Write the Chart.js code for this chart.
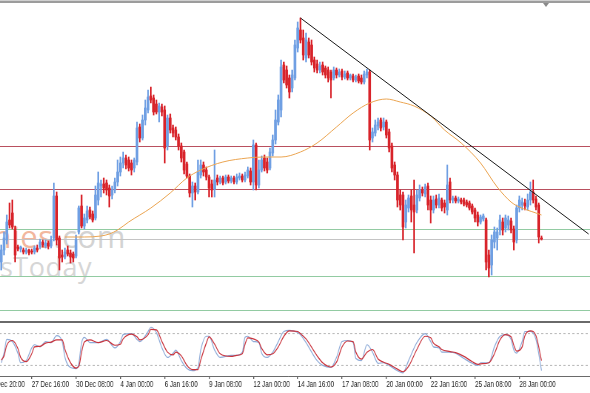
<!DOCTYPE html>
<html><head><meta charset="utf-8">
<script src="https://cdn.jsdelivr.net/npm/chart.js@4"></script>
<style>
html,body{margin:0;padding:0;background:#fff;width:590px;height:393px;overflow:hidden;position:relative;}
.abs{position:absolute;}
#top1{left:0;top:0;width:590px;height:1px;background:#cfcfcf}
#top2{left:0;top:1px;width:590px;height:2px;background:#9c9c9c}
#sep{left:0;top:321px;width:590px;height:2px;background:#6a6a6a}
#mark{left:543px;top:3px;width:0;height:0;border-left:3px solid transparent;border-right:3px solid transparent;border-top:4px solid #8a8a8a}
.wm{font-family:'Open Sans',sans-serif;white-space:nowrap;letter-spacing:0.5px}
#mainCanvas{position:absolute;left:-14px;top:4px}
#stochCanvas{position:absolute;left:-14px;top:323px}
</style></head>
<body>
<div class="abs wm" style="right:578px;top:221px;font-size:31px;line-height:31px;color:#f2b79e">econom</div>
<div class="abs wm" style="left:12px;top:221px;font-size:31px;line-height:31px"><span style="color:#f2b79e">ies</span><span style="color:#d3d3d3">.com</span></div>
<div class="abs wm" style="right:590px;top:253px;font-size:27px;line-height:27px;color:#d6d6d6">Economie</div>
<div class="abs wm" style="left:0px;top:253px;font-size:27px;line-height:27px;color:#d6d6d6">sToday</div>
<canvas id="mainCanvas" width="604" height="316"></canvas>
<canvas id="stochCanvas" width="816" height="70" style="width:604px;height:70px"></canvas>
<div id="top1" class="abs"></div><div id="top2" class="abs"></div>
<div id="sep" class="abs"></div>
<div id="mark" class="abs"></div>
<script>
// ---- data (bar index = 4-hour bar number from 24 Dec 20:00) ----
const tickBars = [0,16,32,48,64,80,96,112,128,144,160,176,192];
const tickLabels = ['24 Dec 20:00','27 Dec 16:00','30 Dec 08:00','4 Jan 00:00','6 Jan 16:00','9 Jan 08:00','12 Jan 00:00','14 Jan 16:00','17 Jan 08:00','20 Jan 00:00','22 Jan 16:00','25 Jan 08:00','28 Jan 00:00'];
const firstBar = 5;
const candleOpen = [
58,70,80,100,107,91,73,71,70,68, 70,69,68,72,73,78,74,77,74,82,
124,82,65,63,70,67,66,64,88,114, 94,100,110,106,102,120,134,136,137,132,
125,130,138,148,157,162,160,157,152,158, 193,182,200,210,224,222,216,208,213,210,
174,202,192,190,183,174,168,156,144,127, 134,128,145,155,150,143,136,131,142,138,
142,138,143,139,142,138,142,144,140,144, 149,138,175,135,150,162,158,152,167,180,
198,210,255,250,242,232,242,272,290,282, 262,278,275,260,256,250,255,252,250,248,
242,250,245,249,243,247,242,244,240,244, 242,238,245,248,182,187,194,200,193,198,
188,174,155,145,125,125,98,112,124,115, 110,122,130,126,134,120,110,121,115,120,
117,110,138,120,122,119,120,120,118,117, 114,110,105,98,101,100,65,55,78,82,
90,98,92,95,99,91,80,112,115,117, 113,120,128,121,115,82];
const candleHigh = [
75,88,105,117,120,94,75,74,72,72, 71,71,74,75,81,80,80,79,84,137,
128,84,70,72,74,70,68,85,114,125, 106,114,113,109,134,148,140,142,140,135,
134,142,160,163,168,165,163,160,162,198, 196,205,220,230,233,225,220,217,216,214,
205,206,195,193,186,177,170,158,146,138, 137,160,160,158,153,145,140,170,145,144,
144,145,145,144,144,146,147,146,148,153, 152,180,177,160,164,165,162,172,185,210,
225,260,258,254,245,250,280,298,302,290, 287,282,280,263,260,258,258,254,253,250,
253,252,251,251,249,249,246,246,245,246, 245,249,251,250,192,200,202,202,202,200,
191,177,158,148,130,128,120,125,130,140, 130,135,133,136,137,124,124,125,126,122,
120,155,142,124,124,123,122,122,120,119, 116,112,108,105,106,102,70,85,93,92,
105,102,105,104,102,94,115,124,122,121, 126,138,140,124,117,84];
const candleLow = [
50,65,76,92,91,58,69,68,66,66, 65,66,66,68,71,73,72,71,72,79,
75,50,58,61,64,57,58,62,86,92, 91,97,101,98,100,115,123,127,125,113,
121,127,134,144,152,151,149,145,148,155, 178,180,195,207,217,205,206,198,204,157,
170,187,183,180,170,158,146,142,123,113, 120,126,142,144,140,123,123,123,135,136,
135,136,137,137,136,136,140,138,138,142, 135,130,130,132,148,149,147,150,164,176,
195,203,237,232,222,228,240,268,277,260, 258,262,255,248,247,247,245,242,238,222,
240,242,243,240,241,240,240,238,238,237, 236,236,242,170,178,184,190,189,190,182,
168,148,140,113,110,80,92,108,98,67, 107,119,124,123,110,97,107,112,112,109,
107,105,117,117,117,117,116,114,113,110, 106,98,94,96,99,50,43,45,72,70,
85,85,88,90,87,70,77,108,110,110, 110,115,117,110,77,80];
const candleClose = [
70,82,98,95,93,65,71,73,68,70, 67,68,72,70,78,75,77,74,80,124,
80,62,63,68,66,63,62,80,112,94, 102,109,103,100,125,137,136,132,130,124,
130,138,148,157,162,155,152,150,160,192, 182,200,212,223,220,208,208,214,208,172,
202,190,187,183,174,162,150,144,127,134, 128,148,155,148,143,132,130,140,138,142,
137,143,139,142,138,143,144,140,145,150, 138,175,135,150,160,152,150,168,180,200,
220,253,240,235,228,245,275,292,280,265, 280,265,258,252,250,254,248,245,242,240,
250,245,248,243,246,242,245,240,243,239, 238,246,248,180,188,195,198,192,198,185,
172,152,145,120,115,93,115,122,110,108, 125,130,127,133,115,110,120,115,122,112,
113,135,120,122,119,121,118,116,115,112, 108,102,98,103,104,58,52,80,88,88,
100,90,102,100,90,78,112,120,118,114, 120,128,120,113,83,81];
const maBars = [28,35,41,44,47,51,59,66,72,77,85,94,100,106,113,119,126,132,138,144,149,154,160,165,171,178,184,189,192,198,200];
const maValues = [83,83,84,86,90,98,112,127,142,150,158,162,163,163,168,177,193,207,217,221,218,214,204,190,177,157,133,118,113,107,105];
const trendBars = [113,217];
const trendValues = [302,86];
const levelValues = [173.5,130.5,90.5,80.5,43.5,9.5];
const stochBars = [5,6,7,9,11,12,14,16,17,19,21,23,25,27,28,30,32,33,34,35,37,40,43,46,48,49,52,54,55,58,59,61,63,65,67,68,70,72,74,76,77,79,80,82,84,88,90,92,93,94,96,98,99,101,103,105,107,109,112,113,115,119,121,124,126,128,130,132,133,135,137,139,141,143,145,148,150,152,155,158,160,161,163,164,167,169,172,175,177,178,181,183,185,187,189,190,191,193,194,196,198,200];
const stochMain = [25,43,69,65,43,25,29,53,59,55,65,63,76,65,35,16,14,24,63,73,63,63,69,53,65,78,80,69,65,84,92,82,53,35,43,49,29,14,10,16,49,75,75,49,35,39,39,45,73,75,65,63,43,35,45,65,84,86,82,78,63,29,20,16,35,65,67,63,33,29,59,45,24,25,20,10,6,29,63,80,65,55,53,45,45,43,33,24,20,25,25,55,75,78,69,49,43,65,84,84,69,10];
const stochSignal = [30,38,58,67,52,35,27,42,55,56,62,64,68,68,50,25,15,18,45,64,68,63,67,58,60,70,79,74,68,78,88,87,65,45,40,45,38,20,12,12,30,62,74,60,42,37,39,42,60,72,70,64,52,40,42,55,75,85,84,80,70,38,25,17,26,55,66,65,45,32,45,50,32,26,22,13,8,18,50,75,72,62,55,50,46,44,37,27,22,23,25,42,68,78,74,58,47,55,76,85,76,29];
const stochLevels = [80,20];

// ---- styles ----
const BULL = '#6f9fe3', BEAR = '#d8232a';
const levelColors = ['#b9505f','#b9505f','#92cba2','#c4c4c4','#92cba2','#92cba2'];
const X_MIN = -0.5, X_MAX = 217.5;

const bars = candleOpen.map((_, k) => firstBar + k);
const candleColors = candleOpen.map((o, k) => candleClose[k] >= o ? BULL : BEAR);
const wickData = bars.map((b, k) => ({x: b, y: [candleLow[k], candleHigh[k]]}));
const bodyData = bars.map((b, k) => ({x: b, y: [candleOpen[k], candleClose[k]]}));
const pts = (xs, ys) => xs.map((x, k) => ({x, y: ys[k]}));

const levelSets = levelValues.map((v, k) => ({
  type: 'line', data: [{x: X_MIN, y: v}, {x: X_MAX, y: v}],
  borderColor: levelColors[k], borderWidth: 1, pointRadius: 0, fill: false, order: 10
}));

new Chart(document.getElementById('mainCanvas'), {
  type: 'bar',
  data: { datasets: [
    ...levelSets,
    { type: 'bar', data: wickData, backgroundColor: candleColors, barThickness: 1, grouped: false, order: 4 },
    { type: 'bar', data: bodyData, backgroundColor: candleColors, barThickness: 2, grouped: false, minBarLength: 1, order: 3 },
    { type: 'line', data: pts(maBars, maValues), borderColor: '#eba552', borderWidth: 1, pointRadius: 0, fill: false, cubicInterpolationMode: 'monotone', order: 2 },
    { type: 'line', data: pts(trendBars, trendValues), borderColor: '#1a1a1a', borderWidth: 1, pointRadius: 0, fill: false, order: 1 }
  ]},
  options: {
    responsive: false, animation: false, events: [],
    layout: { padding: 0 },
    plugins: { legend: { display: false }, tooltip: { enabled: false } },
    scales: {
      x: { type: 'linear', min: X_MIN, max: X_MAX, offset: false, display: false, grid: { offset: false } },
      y: { min: 0, max: 316, display: false }
    }
  }
});

new Chart(document.getElementById('stochCanvas'), {
  type: 'line',
  data: { datasets: [
    ...stochLevels.map(v => ({ data: [{x: X_MIN, y: v}, {x: X_MAX, y: v}], borderColor: '#b5b5b5', borderWidth: 1, borderDash: [3, 3], pointRadius: 0, order: 5 })),
    { data: pts(stochBars, stochMain), borderColor: '#8eabd8', borderWidth: 1.2, pointRadius: 0, cubicInterpolationMode: 'monotone', order: 2 },
    { data: pts(stochBars, stochSignal), borderColor: '#c9333c', borderWidth: 1.2, pointRadius: 0, cubicInterpolationMode: 'monotone', order: 1 }
  ]},
  options: {
    responsive: false, animation: false, events: [],
    layout: { padding: 0 },
    plugins: { legend: { display: false }, tooltip: { enabled: false } },
    scales: {
      x: {
        type: 'linear', min: X_MIN, max: X_MAX, offset: false,
        afterBuildTicks: ax => { ax.ticks = tickBars.map(v => ({ value: v })); },
        afterFit: ax => { ax.height = 17; },
        grid: { drawOnChartArea: false, drawTicks: true, tickLength: 3, color: '#555', lineWidth: 1.3 },
        border: { display: true, color: '#6a6a6a', width: 1 },
        ticks: {
          autoSkip: false, maxRotation: 0, minRotation: 0, align: 'start', padding: 1,
          color: '#222', font: { family: "'Liberation Sans',Arial,sans-serif", size: 8.5 },
          callback: (v, i) => tickLabels[i]
        }
      },
      y: { min: 0, max: 100, display: false }
    }
  }
});
</script>
</body></html>
